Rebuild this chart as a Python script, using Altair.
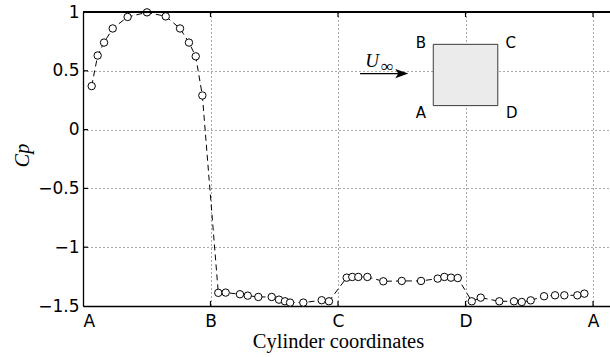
import altair as alt
import pandas as pd

# ---- data ----
pos = [0.068, 0.115, 0.165, 0.233, 0.350, 0.502, 0.649, 0.761, 0.831, 0.884, 0.936,
       1.061, 1.119, 1.231, 1.292, 1.375, 1.480, 1.537, 1.584, 1.624, 1.728, 1.872, 1.929,
       2.068, 2.112, 2.159, 2.230, 2.355, 2.500, 2.651, 2.782, 2.834, 2.886, 2.939,
       3.049, 3.119, 3.265, 3.380, 3.441, 3.511, 3.616, 3.702, 3.775, 3.877, 3.932]
cp = [0.37, 0.63, 0.74, 0.86, 0.958, 0.997, 0.963, 0.86, 0.74, 0.623, 0.29,
      -1.388, -1.386, -1.40, -1.412, -1.423, -1.423, -1.446, -1.46, -1.471, -1.471, -1.451, -1.46,
      -1.259, -1.253, -1.253, -1.253, -1.29, -1.287, -1.287, -1.267, -1.253, -1.259, -1.262,
      -1.46, -1.429, -1.46, -1.46, -1.466, -1.452, -1.417, -1.409, -1.409, -1.409, -1.395]

x_ticks = [0, 1, 2, 3, 4]
x_tick_labels = ["A", "B", "C", "D", "A"]
y_ticks = [-1.5, -1, -0.5, 0, 0.5, 1]

# inset sketch (square cylinder, corner letters, free-stream arrow)
sq_x, sq_x2, sq_y, sq_y2 = 2.747, 3.253, 0.204, 0.725
corner_labels = ["B", "C", "A", "D"]
corner_x = [2.649, 3.355, 2.649, 3.362]
corner_y = [0.736, 0.736, 0.141, 0.141]
arrow_x, arrow_x2, arrow_y, arrow_tip_x = 2.173, 2.49, 0.476, 2.5004

W, H = 527, 294
XMAX = 4.133

df = pd.DataFrame({"pos": pos, "cp": cp, "i": list(range(len(pos)))})
xs = alt.Scale(domain=[0, XMAX], nice=False, zero=False)
ys = alt.Scale(domain=[-1.5, 1], nice=False, zero=False)

label_expr = "[" + ",".join(f"'{l}'" for l in x_tick_labels) + "][datum.value]"

x_axis = alt.Axis(values=x_ticks, labelExpr=label_expr, title="Cylinder coordinates",
                  grid=True, ticks=False, labelPadding=7,
                  titleX=255, titleY=41, titleBaseline="alphabetic",
                  titleAlign="center")
y_axis = alt.Axis(values=y_ticks, format=".1~f", title="Cp", grid=True, ticks=False,
                  labelPadding=4, titleX=-61, titleY=143,
                  titleAngle=-90, titleBaseline="middle", titleAlign="center",
                  titleFontStyle="italic", titleFontSize=20)

# common position encodings for every layer (shared scales, one axis each)
X = lambda f: alt.X(f, scale=xs, axis=x_axis)
Y = lambda f: alt.Y(f, scale=ys, axis=y_axis)

line = alt.Chart(df).mark_line(color="black", strokeDash=[6, 4], strokeWidth=1).encode(
    x=X("pos:Q"), y=Y("cp:Q"), order="i:Q",
)
points = alt.Chart(df).mark_point(shape="circle", filled=True, fill="white", stroke="black",
                                  strokeWidth=1, size=55, opacity=1).encode(
    x=X("pos:Q"), y=Y("cp:Q")
)

# frame: top border + inward ticks
tdf = pd.DataFrame({"pos": x_ticks[1:]})
ydf = pd.DataFrame({"cp": y_ticks[1:-1]})
top_border = alt.Chart(tdf).mark_rule(color="black", strokeWidth=1.3).encode(
    y=alt.value(0), x=alt.value(0), x2=alt.value(W))
bot_ticks = alt.Chart(tdf).mark_rule(color="black", strokeWidth=1.2).encode(
    x=X("pos:Q"), y=alt.value(H), y2=alt.value(H - 5))
top_ticks = alt.Chart(tdf).mark_rule(color="black", strokeWidth=1.2).encode(
    x=X("pos:Q"), y=alt.value(0), y2=alt.value(5))
left_ticks = alt.Chart(ydf).mark_rule(color="black", strokeWidth=1.2).encode(
    y=Y("cp:Q"), x=alt.value(0), x2=alt.value(5))

# inset
sqdf = pd.DataFrame({"pos": [sq_x], "pos2": [sq_x2], "cp": [sq_y], "cp2": [sq_y2]})
square = alt.Chart(sqdf).mark_rect(fill="#ebebeb", stroke="#3a3a3a", strokeWidth=1).encode(
    x=X("pos:Q"), x2="pos2:Q", y=Y("cp:Q"), y2="cp2:Q")
cdf = pd.DataFrame({"lab": corner_labels, "pos": corner_x, "cp": corner_y})
corners = alt.Chart(cdf).mark_text(font="DejaVu Sans", fontSize=15, color="black",
                                   align="center", baseline="middle").encode(
    x=X("pos:Q"), y=Y("cp:Q"), text="lab:N")
adf = pd.DataFrame({"pos": [arrow_x], "pos2": [arrow_x2], "cp": [arrow_y]})
arrow_line = alt.Chart(adf).mark_rule(color="black", strokeWidth=1.3).encode(
    x=X("pos:Q"), x2="pos2:Q", y=Y("cp:Q"))
hdf = pd.DataFrame({"pos": [arrow_tip_x], "cp": [arrow_y]})
arrow_head = alt.Chart(hdf).mark_point(
    shape="M-1,-0.7L1,0L-1,0.7L-0.55,0Z", filled=True, color="black", size=169, opacity=1
).encode(x=X("pos:Q"), y=Y("cp:Q"))
udf = pd.DataFrame({"t": ["U", "∞"], "pos": [2.267, 2.384], "cp": [0.581, 0.530],
                    "fs": [19, 17]})
u_text = alt.Chart(udf).mark_text(font="Liberation Serif", fontStyle="italic", color="black",
                                  align="center", baseline="middle").encode(
    x=X("pos:Q"), y=Y("cp:Q"), text="t:N",
    size=alt.Size("fs:Q", scale=None, legend=None))

chart = alt.layer(line, points, top_border, bot_ticks, top_ticks, left_ticks,
                  square, corners, arrow_line, arrow_head, u_text).properties(
    width=W, height=H,
    background="white",
    autosize=alt.AutoSizeParams(type="none"),
    padding={"left": 83, "top": 12, "right": 0, "bottom": 51},
).configure_view(stroke=None).configure_axis(
    domainColor="black", domainWidth=1.3,
    gridColor="#555555", gridDash=[1, 3], gridWidth=1, gridOpacity=1,
    labelFont="DejaVu Sans", labelFontSize=17, labelColor="black",
    titleFont="Liberation Serif", titleFontSize=20.5, titleFontWeight="normal",
    titleColor="black",
)

chart.save("out.html", embed_options={"renderer": "svg", "actions": False})
